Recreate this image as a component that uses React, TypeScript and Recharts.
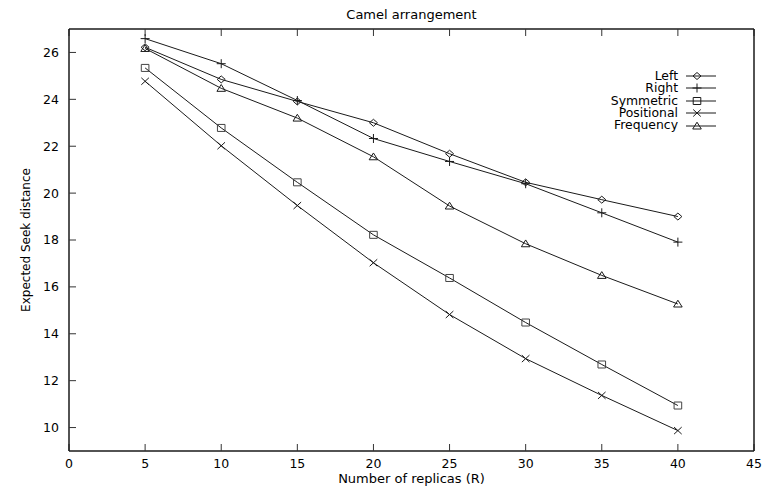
import React from 'react';
import { LineChart, Line, XAxis, YAxis, Legend } from 'recharts';

const replicas = [5, 10, 15, 20, 25, 30, 35, 40];
const leftSeek = [26.22, 24.85, 23.91, 23.0, 21.68, 20.46, 19.72, 19.0];
const rightSeek = [26.59, 25.52, 23.95, 22.33, 21.35, 20.4, 19.16, 17.91];
const symmetricSeek = [25.34, 22.78, 20.46, 18.22, 16.38, 14.48, 12.69, 10.94];
const positionalSeek = [24.77, 22.02, 19.47, 17.03, 14.82, 12.94, 11.37, 9.87];
const frequencySeek = [26.17, 24.47, 23.2, 21.55, 19.45, 17.84, 16.49, 15.27];

const xTicks = [0, 5, 10, 15, 20, 25, 30, 35, 40, 45];
const yTicks = [10, 12, 14, 16, 18, 20, 22, 24, 26];

const chartTitle = 'Camel arrangement';
const xTitle = 'Number of replicas (R)';
const yTitle = 'Expected Seek distance';

const series = [
  { key: 'left', name: 'Left', marker: 'diamond' },
  { key: 'right', name: 'Right', marker: 'plus' },
  { key: 'symmetric', name: 'Symmetric', marker: 'square' },
  { key: 'positional', name: 'Positional', marker: 'cross' },
  { key: 'frequency', name: 'Frequency', marker: 'triangle' },
];

const data = replicas.map((r, i) => ({
  r,
  left: leftSeek[i],
  right: rightSeek[i],
  symmetric: symmetricSeek[i],
  positional: positionalSeek[i],
  frequency: frequencySeek[i],
}));

const FONT = '"DejaVu Sans", "Liberation Sans", sans-serif';
const INK = '#1a1a1a';

function markerPath(kind: string, cx: number, cy: number): string {
  switch (kind) {
    case 'diamond':
      return `M${cx - 4},${cy}L${cx},${cy - 3.5}L${cx + 4},${cy}L${cx},${cy + 3.5}Z`;
    case 'plus':
      return `M${cx - 4.5},${cy}H${cx + 4.5}M${cx},${cy - 4.5}V${cy + 4.5}`;
    case 'square':
      return `M${cx - 3.8},${cy - 3.5}H${cx + 3.8}V${cy + 3.5}H${cx - 3.8}Z`;
    case 'cross':
      return `M${cx - 3.8},${cy - 3.5}L${cx + 3.8},${cy + 3.5}M${cx + 3.8},${cy - 3.5}L${cx - 3.8},${cy + 3.5}`;
    case 'triangle':
    default:
      return `M${cx - 4.3},${cy + 3}L${cx},${cy - 3.8}L${cx + 4.3},${cy + 3}Z`;
  }
}

function makeDot(kind: string) {
  return (props: any) => {
    const { cx, cy, index } = props;
    if (cx == null || cy == null) return <g key={`e-${index}`} />;
    return (
      <path
        key={`${kind}-${index}`}
        d={markerPath(kind, cx, cy)}
        fill="none"
        stroke={kind === 'square' ? '#444' : INK}
        strokeWidth={1}
      />
    );
  };
}

const EmptyTick = () => null;

function LegendContent() {
  return (
    <div style={{ fontFamily: FONT, fontSize: 12.4, color: '#000' }}>
      {series.map((s) => (
        <div
          key={s.key}
          style={{ display: 'flex', alignItems: 'center', height: 12.4, lineHeight: '12.4px' }}
        >
          <div style={{ width: 118, textAlign: 'right', whiteSpace: 'nowrap' }}>{s.name}</div>
          <svg width={40} height={12} style={{ marginLeft: 8, overflow: 'visible' }}>
            <line x1={0} y1={6} x2={30} y2={6} stroke={INK} strokeWidth={1} />
            <path d={markerPath(s.marker, 11, 6)} fill="none" stroke={INK} strokeWidth={1} />
          </svg>
        </div>
      ))}
    </div>
  );
}

export default function App() {
  return (
    <div style={{ position: 'absolute', left: 0, top: 0, width: 763, height: 488, background: '#fff' }}>
      <LineChart
        width={763}
        height={488}
        data={data}
        margin={{ top: 28, right: 8, left: 0, bottom: 0 }}
      >
        <XAxis
          xAxisId="bottom"
          dataKey="r"
          type="number"
          domain={[0, 45]}
          ticks={xTicks}
          interval={0}
          height={37}
          tickSize={-7}
          tickMargin={15}
          axisLine={{ stroke: INK, strokeWidth: 1.5 }}
          tickLine={{ stroke: '#333', strokeWidth: 1 }}
          tick={{ fill: '#000', fontSize: 12.5, fontFamily: FONT }}
          label={{
            content: (p: any) => {
              const vb = p.viewBox || { x: 69, y: 451, width: 685, height: 37 };
              return (
                <text
                  x={vb.x + vb.width / 2}
                  y={vb.y + 32}
                  textAnchor="middle"
                  fontFamily={FONT}
                  fontSize={13}
                  fill="#000"
                >
                  {xTitle}
                </text>
              );
            },
          }}
        />
        <XAxis
          xAxisId="top"
          orientation="top"
          dataKey="r"
          type="number"
          domain={[0, 45]}
          ticks={xTicks}
          interval={0}
          height={1}
          tickSize={-7}
          axisLine={{ stroke: INK, strokeWidth: 1.5 }}
          tickLine={{ stroke: '#333', strokeWidth: 1 }}
          tick={EmptyTick}
          label={{
            content: (p: any) => {
              const vb = p.viewBox || { x: 69, y: 28, width: 685, height: 1 };
              return (
                <text
                  x={vb.x + vb.width / 2}
                  y={vb.y - 9}
                  textAnchor="middle"
                  fontFamily={FONT}
                  fontSize={13}
                  fill="#000"
                >
                  {chartTitle}
                </text>
              );
            },
          }}
        />
        <YAxis
          yAxisId="left"
          type="number"
          domain={[9, 27]}
          ticks={yTicks}
          interval={0}
          width={69}
          tickSize={-7}
          tickMargin={17}
          axisLine={{ stroke: INK, strokeWidth: 1.5 }}
          tickLine={{ stroke: '#333', strokeWidth: 1 }}
          tick={{ fill: '#000', fontSize: 12.5, fontFamily: FONT }}
          label={{
            content: (p: any) => {
              const vb = p.viewBox || { x: 0, y: 29, width: 69, height: 422 };
              const cx = vb.x + 26;
              const cy = vb.y + vb.height / 2;
              return (
                <text
                  x={cx}
                  y={cy}
                  textAnchor="middle"
                  dominantBaseline="central"
                  transform={`rotate(-90, ${cx}, ${cy})`}
                  fontFamily={FONT}
                  fontSize={12}
                  fill="#000"
                >
                  {yTitle}
                </text>
              );
            },
          }}
        />
        <YAxis
          yAxisId="right"
          orientation="right"
          type="number"
          domain={[9, 27]}
          ticks={yTicks}
          interval={0}
          width={1}
          tickSize={-7}
          axisLine={{ stroke: INK, strokeWidth: 1.5 }}
          tickLine={{ stroke: '#333', strokeWidth: 1 }}
          tick={EmptyTick}
        />
        <Legend
          layout="horizontal"
          verticalAlign="middle"
          align="center"
          wrapperStyle={{ position: 'absolute', left: 560, top: 69.8, width: 180, height: 64 }}
          content={LegendContent}
        />
        {series.map((s) => (
          <Line
            key={s.key}
            xAxisId="bottom"
            yAxisId="left"
            type="linear"
            dataKey={s.key}
            name={s.name}
            stroke={INK}
            strokeWidth={1}
            dot={makeDot(s.marker)}
            activeDot={false}
            isAnimationActive={false}
          />
        ))}
      </LineChart>
    </div>
  );
}
